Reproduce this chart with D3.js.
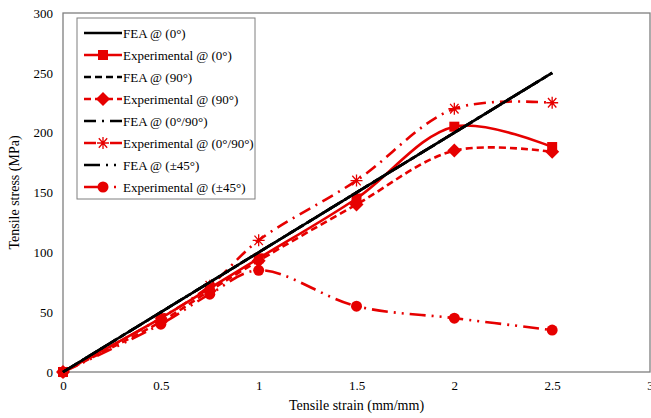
<!DOCTYPE html>
<html>
<head>
<meta charset="utf-8">
<script src="https://cdn.jsdelivr.net/npm/d3@7"></script>
<style>
  body { margin: 0; background: #fff; }
  svg text { font-family: "Liberation Serif", "Times New Roman", serif; }
</style>
</head>
<body>
<script>
// strain values (mm/mm)
const strain = [0, 0.5, 0.75, 1, 1.5, 2, 2.5];
const feaStrain = [0, 2.5];
const fea = [0, 250];
const exp0 = [0, 45, 70, 95, 145, 205, 188];
const exp90 = [0, 42, 68, 93, 140, 185, 184];
const exp090 = [0, 45, 72, 110, 160, 220, 225];
const exp45 = [0, 40, 65, 85, 55, 45, 35];
const xTicks = [0, 0.5, 1, 1.5, 2, 2.5, 3];
const yTicks = [0, 50, 100, 150, 200, 250, 300];

const series = [
  {name: "FEA @ (0°)", x: feaStrain, y: fea, color: "#000", dash: null, marker: null},
  {name: "Experimental @ (0°)", x: strain, y: exp0, color: "#e60000", dash: null, marker: "square"},
  {name: "FEA @ (90°)", x: feaStrain, y: fea, color: "#000", dash: "7,4", marker: null},
  {name: "Experimental @ (90°)", x: strain, y: exp90, color: "#e60000", dash: "7,4", marker: "diamond"},
  {name: "FEA @ (0°/90°)", x: feaStrain, y: fea, color: "#000", dash: "12,6,2,6", marker: null},
  {name: "Experimental @ (0°/90°)", x: strain, y: exp090, color: "#e60000", dash: "12,6,2,6", marker: "star"},
  {name: "FEA @ (±45°)", x: feaStrain, y: fea, color: "#000", dash: "16,6,2,6,2,6", marker: null},
  {name: "Experimental @ (±45°)", x: strain, y: exp45, color: "#e60000", dash: "16,6,2,6,2,6", marker: "circle"}
];

const W = 651, H = 418;
const m = {left: 63, right: 1, top: 13, bottom: 46};

const svg = d3.select("body").append("svg").attr("width", W).attr("height", H);

const x = d3.scaleLinear().domain([0, 3]).range([m.left, W - m.right]);
const y = d3.scaleLinear().domain([0, 300]).range([H - m.bottom, m.top]);

// plot frame
svg.append("rect")
  .attr("x", m.left).attr("y", m.top)
  .attr("width", W - m.right - m.left).attr("height", H - m.bottom - m.top)
  .attr("fill", "none").attr("stroke", "#7f7f7f").attr("stroke-width", 1.3);

const xAxis = svg.append("g")
  .attr("transform", "translate(0," + (H - m.bottom) + ")")
  .call(d3.axisBottom(x).tickValues(xTicks).tickSize(0).tickPadding(9).tickFormat(d3.format("")));
const yAxis = svg.append("g")
  .attr("transform", "translate(" + m.left + ",0)")
  .call(d3.axisLeft(y).tickValues(yTicks).tickSize(0).tickPadding(10));
[xAxis, yAxis].forEach(g => {
  g.select(".domain").remove();
  g.selectAll("text").attr("font-size", 13).attr("fill", "#000")
    .attr("font-family", "Liberation Serif, serif");
});

svg.append("text")
  .attr("x", (m.left + W - m.right) / 2).attr("y", 410)
  .attr("text-anchor", "middle").attr("font-size", 14).text("Tensile strain (mm/mm)");
svg.append("text")
  .attr("transform", "translate(19," + ((m.top + H - m.bottom) / 2) + ") rotate(-90)")
  .attr("text-anchor", "middle").attr("font-size", 14).text("Tensile stress (MPa)");

const line = d3.line().curve(d3.curveCatmullRom.alpha(0.5));

function drawMarker(g, type, cx, cy, color) {
  if (type === "square") {
    g.append("rect").attr("x", cx - 5).attr("y", cy - 5).attr("width", 10).attr("height", 10).attr("fill", color);
  } else if (type === "diamond") {
    g.append("path").attr("d", `M${cx},${cy - 7}L${cx + 7},${cy}L${cx},${cy + 7}L${cx - 7},${cy}Z`).attr("fill", color);
  } else if (type === "circle") {
    g.append("circle").attr("cx", cx).attr("cy", cy).attr("r", 5.5).attr("fill", color);
  } else if (type === "star") {
    const r = 6;
    g.append("path")
      .attr("d", `M${cx - r},${cy}L${cx + r},${cy}M${cx - r * 0.7},${cy - r * 0.8}L${cx + r * 0.7},${cy + r * 0.8}M${cx - r * 0.7},${cy + r * 0.8}L${cx + r * 0.7},${cy - r * 0.8}M${cx},${cy - r}L${cx},${cy + r}`)
      .attr("stroke", color).attr("stroke-width", 1.3).attr("fill", "none");
  }
}

// draw experimental first then FEA on top? FEA solid black is visible above red
const plot = svg.append("g");
const order = [7, 5, 3, 1, 6, 4, 2, 0];
order.forEach(i => {
  const s = series[i];
  const pts = s.x.map((v, j) => [x(v), y(s.y[j])]);
  plot.append("path")
    .attr("d", line(pts))
    .attr("fill", "none")
    .attr("stroke", s.color)
    .attr("stroke-width", 2.6)
    .attr("stroke-dasharray", s.dash);
  if (s.marker) {
    const mg = plot.append("g");
    pts.forEach(p => drawMarker(mg, s.marker, p[0], p[1], s.color));
  }
});

// legend
const lg = svg.append("g");
lg.append("rect").attr("x", 77).attr("y", 18).attr("width", 178).attr("height", 181)
  .attr("fill", "#fff").attr("stroke", "#7f7f7f").attr("stroke-width", 1);
series.forEach((s, i) => {
  const ly = 33 + i * 22;
  lg.append("line").attr("x1", 84).attr("x2", 122).attr("y1", ly).attr("y2", ly)
    .attr("stroke", s.color).attr("stroke-width", 2.6).attr("stroke-dasharray", s.dash);
  if (s.marker) drawMarker(lg, s.marker, 103, ly, s.color);
  lg.append("text").attr("x", 123).attr("y", ly + 4.5).attr("font-size", 13).text(s.name);
});
</script>
</body>
</html>
